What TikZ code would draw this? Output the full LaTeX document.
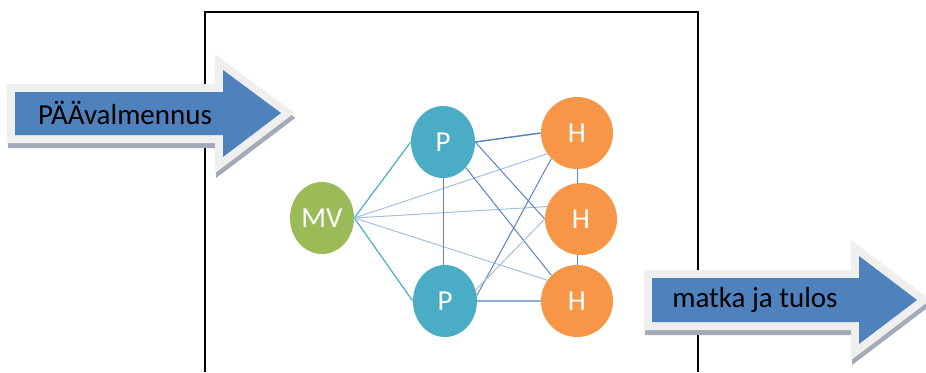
\documentclass[tikz,border=0pt]{standalone}
\usepackage{fontspec}
\setmainfont{Carlito}
\usepackage{xcolor}
\usepackage{tikz}
\usetikzlibrary{shapes.geometric}

\definecolor{vihrea}{HTML}{9BBB59}
\definecolor{turkoosi}{HTML}{4BACC6}
\definecolor{oranssi}{HTML}{F79646}
\definecolor{nuolisin}{HTML}{4F81BD}
\definecolor{reuna}{HTML}{EFEFEF}
\definecolor{varjo}{HTML}{A3ABB9}
\definecolor{viiva}{HTML}{5B84BD}
\definecolor{vaalea}{HTML}{A4BEDF}

\tikzset{
  pallo/.style={ellipse, inner sep=0pt, text=white, font=\fontsize{21.75}{26}\selectfont},
  mvpallo/.style={pallo, fill=vihrea, minimum width=48pt, minimum height=54pt},
  ppallo/.style={pallo, fill=turkoosi, minimum width=48pt, minimum height=54pt},
  hpallo/.style={pallo, fill=oranssi, minimum width=54pt, minimum height=54pt},
  nuoliteksti/.style={text=black, font=\fontsize{21.75}{26}\selectfont},
  nuolivarjo/.style={fill=varjo, draw=varjo, line width=12pt, line join=miter},
  nuolireuna/.style={draw=reuna, line width=12pt, line join=miter},
  tviiva/.style={draw=turkoosi, line width=0.9pt},
  sviiva/.style={draw=viiva, line width=0.75pt},
  vviiva/.style={draw=vaalea, line width=0.75pt},
}

\begin{document}
\begin{tikzpicture}[x=0.75pt,y=0.75pt,yscale=-1,xscale=1]
\useasboundingbox (0,0) rectangle (926,372);

%Shape: Rectangle, open at the bottom
\draw[line width=1.5pt] (205,372) -- (205,12) -- (698,12) -- (698,372) ;

%Shape: Right Arrow (left)
\filldraw[nuolivarjo, shift={(1,5)}] (15,92) -- (223,92) -- (223,70) -- (281,113) -- (223,157) -- (223,135) -- (15,135) -- cycle ;
\draw[nuolireuna] (15,92) -- (223,92) -- (223,70) -- (281,113) -- (223,157) -- (223,135) -- (15,135) -- cycle ;
\fill[nuolisin] (15,92) -- (223,92) -- (223,70) -- (281,113) -- (223,157) -- (223,135) -- (15,135) -- cycle ;
\node[nuoliteksti] (paa) at (125,113) {PÄÄvalmennus};

%Shape: Right Arrow (right)
\filldraw[nuolivarjo, shift={(1,5)}] (652,278) -- (859,278) -- (859,256) -- (917,300) -- (859,344) -- (859,322) -- (652,322) -- cycle ;
\draw[nuolireuna] (652,278) -- (859,278) -- (859,256) -- (917,300) -- (859,344) -- (859,322) -- (652,322) -- cycle ;
\fill[nuolisin] (652,278) -- (859,278) -- (859,256) -- (917,300) -- (859,344) -- (859,322) -- (652,322) -- cycle ;
\node[nuoliteksti] (tulos) at (755,300) {matka ja tulos};

%Shape: Ellipses
\node[mvpallo] (mv) at (322,218) {MV};
\node[ppallo] (pyla) at (443,142) {P};
\node[ppallo] (pala) at (445,301) {P};
\node[hpallo] (hyla) at (577,133) {H};
\node[hpallo] (hkeski) at (581,219) {H};
\node[hpallo] (hala) at (577,301) {H};

%Straight Lines
\draw[tviiva] (mv.east) -- (pyla.west) ;
\draw[tviiva] (mv.east) -- (pala.west) ;
\draw[vviiva] (mv.east) -- (hyla.215) ;
\draw[vviiva] (mv.east) -- (hkeski.160) ;
\draw[vviiva] (mv.east) -- (hala.145) ;
\draw[sviiva, line width=1.1pt] (pyla.east) -- (hyla.west) ;
\draw[sviiva] (pyla.east) -- (hkeski.west) ;
\draw[sviiva] (pyla.south east) -- (hala.north west) ;
\draw[sviiva] (pyla.south) -- (pyla.south |- pala.north) ;
\draw[sviiva] (pala.10) -- (hyla.south west) ;
\draw[vviiva] (pala.20) -- (hkeski.west) ;
\draw[sviiva, line width=1.1pt, draw=vaalea!70!viiva] (pala.east) -- (hala.west) ;
\draw[sviiva] (hyla.south) -- (hyla.south |- hkeski.north) ;
\draw[sviiva] (hala.north |- hkeski.south) -- (hala.north) ;

\end{tikzpicture}
\end{document}
